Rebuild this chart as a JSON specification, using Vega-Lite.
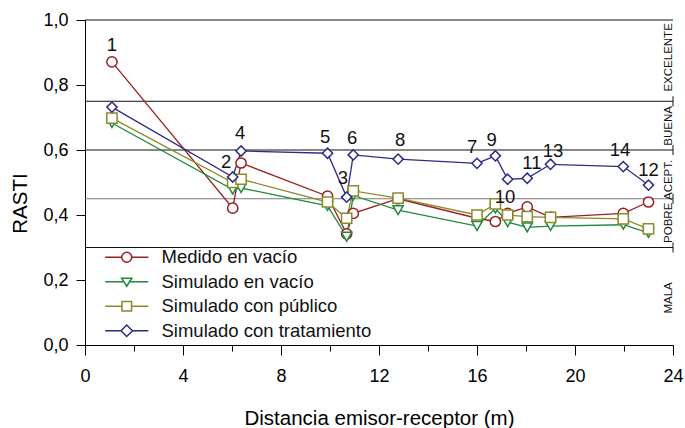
{
  "$schema": "https://vega.github.io/schema/vega-lite/v6.json",
  "width": 588,
  "height": 325,
  "autosize": {"type": "none"},
  "padding": {"left": 85, "top": 20, "right": 12, "bottom": 83},
  "config": {
    "font": "Liberation Sans",
    "view": {"stroke": null},
    "axis": {
      "grid": false,
      "domainColor": "#000",
      "tickColor": "#000",
      "labelColor": "#000",
      "titleColor": "#000",
      "labelFontSize": 18,
      "titleFontSize": 20.5,
      "titleFontWeight": "normal"
    },
    "legend": {
      "title": null,
      "orient": "none",
      "legendX": 32.5,
      "legendY": 228,
      "padding": 0,
      "labelFontSize": 18.5,
      "labelColor": "#111",
      "labelLimit": 400,
      "labelOffset": 25.5,
      "rowPadding": 5.5,
      "symbolSize": 144,
      "symbolStrokeWidth": 1.5
    }
  },
  "datasets": {
    "rasti": [
      {"d": 1.1, "serie": "Medido en vacío", "rasti": 0.871},
      {"d": 6.03, "serie": "Medido en vacío", "rasti": 0.421},
      {"d": 6.37, "serie": "Medido en vacío", "rasti": 0.56},
      {"d": 9.9, "serie": "Medido en vacío", "rasti": 0.458},
      {"d": 10.68, "serie": "Medido en vacío", "rasti": 0.342},
      {"d": 10.95, "serie": "Medido en vacío", "rasti": 0.405},
      {"d": 12.78, "serie": "Medido en vacío", "rasti": 0.45},
      {"d": 16.0, "serie": "Medido en vacío", "rasti": 0.39},
      {"d": 16.75, "serie": "Medido en vacío", "rasti": 0.38},
      {"d": 17.25, "serie": "Medido en vacío", "rasti": 0.405},
      {"d": 18.05, "serie": "Medido en vacío", "rasti": 0.425},
      {"d": 19.0, "serie": "Medido en vacío", "rasti": 0.393},
      {"d": 21.97, "serie": "Medido en vacío", "rasti": 0.405},
      {"d": 23.0, "serie": "Medido en vacío", "rasti": 0.44},
      {"d": 1.1, "serie": "Simulado en vacío", "rasti": 0.683},
      {"d": 6.03, "serie": "Simulado en vacío", "rasti": 0.478},
      {"d": 6.37, "serie": "Simulado en vacío", "rasti": 0.483},
      {"d": 9.9, "serie": "Simulado en vacío", "rasti": 0.428},
      {"d": 10.68, "serie": "Simulado en vacío", "rasti": 0.333},
      {"d": 10.95, "serie": "Simulado en vacío", "rasti": 0.46},
      {"d": 12.78, "serie": "Simulado en vacío", "rasti": 0.415},
      {"d": 16.0, "serie": "Simulado en vacío", "rasti": 0.366},
      {"d": 16.75, "serie": "Simulado en vacío", "rasti": 0.42},
      {"d": 17.25, "serie": "Simulado en vacío", "rasti": 0.378},
      {"d": 18.05, "serie": "Simulado en vacío", "rasti": 0.362},
      {"d": 19.0, "serie": "Simulado en vacío", "rasti": 0.366},
      {"d": 21.97, "serie": "Simulado en vacío", "rasti": 0.37},
      {"d": 23.0, "serie": "Simulado en vacío", "rasti": 0.345},
      {"d": 1.1, "serie": "Simulado con público", "rasti": 0.698},
      {"d": 6.03, "serie": "Simulado con público", "rasti": 0.5},
      {"d": 6.37, "serie": "Simulado con público", "rasti": 0.51},
      {"d": 9.9, "serie": "Simulado con público", "rasti": 0.44},
      {"d": 10.68, "serie": "Simulado con público", "rasti": 0.39},
      {"d": 10.95, "serie": "Simulado con público", "rasti": 0.474},
      {"d": 12.78, "serie": "Simulado con público", "rasti": 0.452},
      {"d": 16.0, "serie": "Simulado con público", "rasti": 0.4},
      {"d": 16.75, "serie": "Simulado con público", "rasti": 0.434},
      {"d": 17.25, "serie": "Simulado con público", "rasti": 0.4},
      {"d": 18.05, "serie": "Simulado con público", "rasti": 0.395},
      {"d": 19.0, "serie": "Simulado con público", "rasti": 0.393},
      {"d": 21.97, "serie": "Simulado con público", "rasti": 0.388},
      {"d": 23.0, "serie": "Simulado con público", "rasti": 0.357},
      {"d": 1.1, "serie": "Simulado con tratamiento", "rasti": 0.732},
      {"d": 6.03, "serie": "Simulado con tratamiento", "rasti": 0.517},
      {"d": 6.37, "serie": "Simulado con tratamiento", "rasti": 0.597},
      {"d": 9.9, "serie": "Simulado con tratamiento", "rasti": 0.59},
      {"d": 10.68, "serie": "Simulado con tratamiento", "rasti": 0.455},
      {"d": 10.95, "serie": "Simulado con tratamiento", "rasti": 0.585},
      {"d": 12.78, "serie": "Simulado con tratamiento", "rasti": 0.572},
      {"d": 16.0, "serie": "Simulado con tratamiento", "rasti": 0.559},
      {"d": 16.75, "serie": "Simulado con tratamiento", "rasti": 0.582},
      {"d": 17.25, "serie": "Simulado con tratamiento", "rasti": 0.51},
      {"d": 18.05, "serie": "Simulado con tratamiento", "rasti": 0.513},
      {"d": 19.0, "serie": "Simulado con tratamiento", "rasti": 0.556},
      {"d": 21.97, "serie": "Simulado con tratamiento", "rasti": 0.549},
      {"d": 23.0, "serie": "Simulado con tratamiento", "rasti": 0.492}
    ],
    "puntos": [
      {"n": "1", "d": 1.1, "rasti": 0.923},
      {"n": "2", "d": 5.76, "rasti": 0.563},
      {"n": "4", "d": 6.33, "rasti": 0.652},
      {"n": "5", "d": 9.8, "rasti": 0.64},
      {"n": "3", "d": 10.53, "rasti": 0.514},
      {"n": "6", "d": 10.9, "rasti": 0.637},
      {"n": "8", "d": 12.86, "rasti": 0.631},
      {"n": "7", "d": 15.8, "rasti": 0.609},
      {"n": "9", "d": 16.6, "rasti": 0.631},
      {"n": "10", "d": 17.14, "rasti": 0.455},
      {"n": "11", "d": 18.24, "rasti": 0.56},
      {"n": "13", "d": 19.1, "rasti": 0.597},
      {"n": "14", "d": 21.84, "rasti": 0.6},
      {"n": "12", "d": 23.0, "rasti": 0.538}
    ],
    "limites": [
      {"b": 1.0},
      {"b": 0.75},
      {"b": 0.6},
      {"b": 0.45},
      {"b": 0.3}
    ],
    "zonas": [
      {"zona": "EXCELENTE", "m": 0.885},
      {"zona": "BUENA", "m": 0.674},
      {"zona": "ACEPT.", "m": 0.508},
      {"zona": "POBRE", "m": 0.376},
      {"zona": "MALA", "m": 0.145}
    ]
  },
  "layer": [
    {
      "data": {"name": "limites"},
      "mark": {"type": "rule", "strokeWidth": 1},
      "encoding": {
        "y": {"field": "b", "type": "quantitative", "scale": {"domain": [0, 1], "nice": false}},
        "color": {"condition": {"test": "datum.b === 0.45", "value": "#7a7a7a"}, "value": "#111"}
      }
    },
    {
      "data": {"name": "limites"},
      "transform": [{"filter": "datum.b < 1"}],
      "mark": {"type": "rule", "strokeWidth": 1, "color": "#111", "yOffset": -5, "y2Offset": 5},
      "encoding": {
        "x": {"datum": 24, "type": "quantitative"},
        "y": {"field": "b", "type": "quantitative"},
        "y2": {"field": "b"}
      }
    },
    {
      "data": {"name": "zonas"},
      "mark": {"type": "text", "angle": 270, "baseline": "alphabetic", "align": "center", "dy": -1, "fontSize": 11.5, "color": "#111"},
      "encoding": {
        "x": {"datum": 24, "type": "quantitative"},
        "y": {"field": "m", "type": "quantitative"},
        "text": {"field": "zona"}
      }
    },
    {
      "data": {"name": "rasti"},
      "mark": {"type": "line", "strokeWidth": 1.3},
      "encoding": {
        "x": {
          "field": "d",
          "type": "quantitative",
          "scale": {"domain": [0, 24], "nice": false},
          "axis": {
            "title": "Distancia emisor-receptor (m)",
            "values": [0, 1, 2, 3, 4, 5, 6, 7, 8, 9, 10, 11, 12, 13, 14, 15, 16, 17, 18, 19, 20, 21, 22, 23, 24],
            "labelExpr": "datum.value % 4 === 0 ? datum.label : ''",
            "tickSize": {"condition": {"test": "datum.value % 4 === 0", "value": 10}, "value": 6},
            "labelPadding": 12,
            "labelFlush": false,
            "labelOverlap": false,
            "titlePadding": 23
          }
        },
        "y": {
          "field": "rasti",
          "type": "quantitative",
          "scale": {"domain": [0, 1], "nice": false},
          "axis": {
            "title": "RASTI",
            "titleY": 183,
            "values": [0, 0.05, 0.1, 0.15, 0.2, 0.25, 0.3, 0.35, 0.4, 0.45, 0.5, 0.55, 0.6, 0.65, 0.7, 0.75, 0.8, 0.85, 0.9, 0.95, 1],
            "labelExpr": "indexof([0, 0.2, 0.4, 0.6, 0.8, 1], datum.value) >= 0 ? replace(format(datum.value, '.1f'), '.', ',') : ''",
            "tickSize": {"condition": {"test": "indexof([0, 0.2, 0.4, 0.6, 0.8, 1], datum.value) >= 0", "value": 9}, "value": 6},
            "labelPadding": 8,
            "labelFlush": false,
            "labelOverlap": false,
            "titlePadding": 12
          }
        },
        "color": {
          "field": "serie",
          "type": "nominal",
          "scale": {
            "domain": ["Medido en vacío", "Simulado en vacío", "Simulado con público", "Simulado con tratamiento"],
            "range": ["#9c1f1f", "#1f8a3c", "#8a8a2a", "#2c2c86"]
          }
        },
        "detail": {"field": "serie"}
      }
    },
    {
      "data": {"name": "rasti"},
      "transform": [{"filter": "datum.serie === 'Medido en vacío'"}],
      "mark": {"type": "point", "shape": "circle", "filled": false, "fill": "white", "fillOpacity": 1, "opacity": 1, "size": 105, "strokeWidth": 1.5},
      "encoding": {
        "x": {"field": "d", "type": "quantitative"},
        "y": {"field": "rasti", "type": "quantitative"},
        "color": {"field": "serie", "type": "nominal"}
      }
    },
    {
      "data": {"name": "rasti"},
      "transform": [{"filter": "datum.serie === 'Simulado en vacío'"}],
      "mark": {"type": "point", "shape": "triangle-down", "filled": false, "fill": "white", "fillOpacity": 1, "opacity": 1, "size": 105, "strokeWidth": 1.5},
      "encoding": {
        "x": {"field": "d", "type": "quantitative"},
        "y": {"field": "rasti", "type": "quantitative"},
        "color": {"field": "serie", "type": "nominal"}
      }
    },
    {
      "data": {"name": "rasti"},
      "transform": [{"filter": "datum.serie === 'Simulado con público'"}],
      "mark": {"type": "point", "shape": "square", "filled": false, "fill": "white", "fillOpacity": 1, "opacity": 1, "size": 105, "strokeWidth": 1.5},
      "encoding": {
        "x": {"field": "d", "type": "quantitative"},
        "y": {"field": "rasti", "type": "quantitative"},
        "color": {"field": "serie", "type": "nominal"}
      }
    },
    {
      "data": {"name": "rasti"},
      "transform": [{"filter": "datum.serie === 'Simulado con tratamiento'"}],
      "mark": {"type": "point", "shape": "diamond", "filled": false, "fill": "white", "fillOpacity": 1, "opacity": 1, "size": 105, "strokeWidth": 1.5},
      "encoding": {
        "x": {"field": "d", "type": "quantitative"},
        "y": {"field": "rasti", "type": "quantitative"},
        "color": {"field": "serie", "type": "nominal"}
      }
    },
    {
      "data": {"name": "rasti"},
      "transform": [{"filter": "false"}],
      "mark": {"type": "point", "filled": false, "strokeWidth": 1.5},
      "encoding": {
        "x": {"field": "d", "type": "quantitative"},
        "y": {"field": "rasti", "type": "quantitative"},
        "color": {"field": "serie", "type": "nominal"},
        "shape": {
          "field": "serie",
          "type": "nominal",
          "scale": {
            "domain": ["Medido en vacío", "Simulado en vacío", "Simulado con público", "Simulado con tratamiento"],
            "range": [
              "M-3.6,0H-0.83M0.83,0H3.6M0.83,0A0.83,0.83,0,1,1,-0.83,0A0.83,0.83,0,1,1,0.83,0Z",
              "M-3.6,0H-0.47M0.47,0H3.6M-0.85,-0.6L0.85,-0.6L0,0.75Z",
              "M-3.6,0H-0.8M0.8,0H3.6M-0.8,-0.8H0.8V0.8H-0.8Z",
              "M-3.6,0H-0.95M0.95,0H3.6M-0.95,0L0,-0.95L0.95,0L0,0.95Z"
            ]
          }
        }
      }
    },
    {
      "data": {"name": "puntos"},
      "mark": {"type": "text", "fontSize": 18.5, "color": "#111", "align": "center", "baseline": "middle"},
      "encoding": {
        "x": {"field": "d", "type": "quantitative"},
        "y": {"field": "rasti", "type": "quantitative"},
        "text": {"field": "n"}
      }
    }
  ]
}
